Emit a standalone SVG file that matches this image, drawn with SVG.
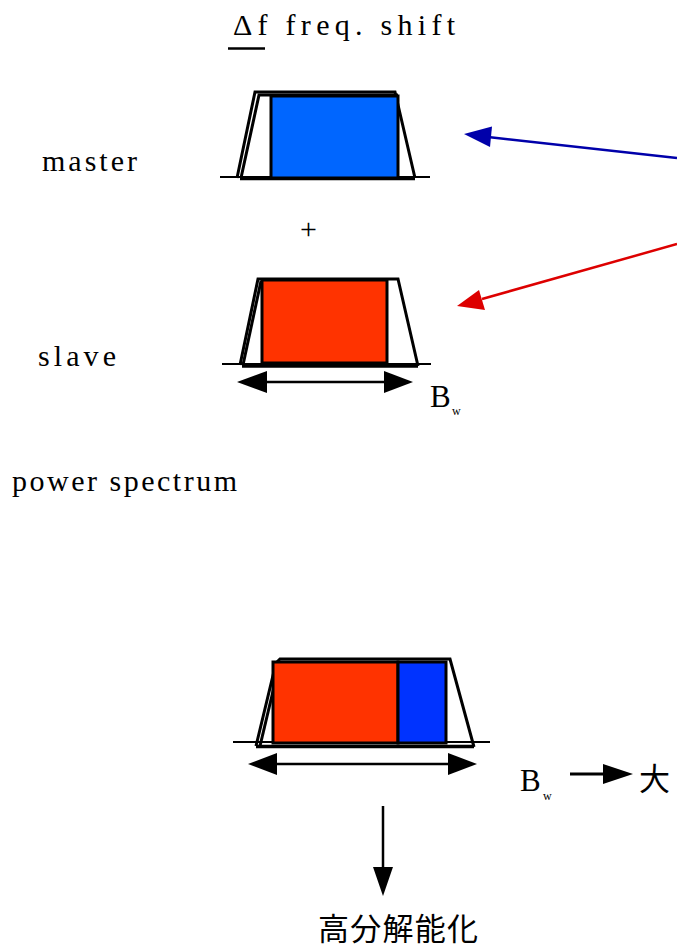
<svg xmlns="http://www.w3.org/2000/svg" width="677" height="951" viewBox="0 0 677 951">
<style>
.t{font-family:"Liberation Serif","DejaVu Serif",serif;font-size:30px;fill:#000}
.cjk{font-family:"Noto Sans CJK JP","Noto Sans CJK SC",sans-serif;font-size:31px;fill:#000}
.out{fill:none;stroke:#000;stroke-width:3;stroke-linejoin:miter}
.base{stroke:#000;stroke-width:2}
.thick{stroke:#000;stroke-width:3.5}
.bx{stroke:#000;stroke-width:3}
</style>
<rect width="677" height="951" fill="#fff"/>

<g id="title">
<text class="t" x="233" y="35" textLength="222" lengthAdjust="spacing">Δf freq. shift</text>
<line x1="228" y1="48.5" x2="265" y2="48.5" stroke="#000" stroke-width="2.5"/>
</g>

<g id="labels">
<text class="t" x="42" y="171" textLength="95" lengthAdjust="spacing">master</text>
<text class="t" x="38" y="366" textLength="78" lengthAdjust="spacing">slave</text>
<text class="t" x="12" y="491" textLength="225" lengthAdjust="spacing">power spectrum</text>
<text class="t" x="300" y="239" style="font-size:30px">+</text>
</g>

<g id="master">
<line class="base" x1="220" y1="177" x2="430" y2="177"/>
<polyline class="out" points="237,178 255,92 395,92 415,178"/>
<polyline class="out" points="241,178 259,95 398,95"/>
<line class="thick" x1="240" y1="178.5" x2="415" y2="178.5"/>
<rect x="271" y="96" width="127" height="82" fill="#0066FF" class="bx"/>
</g>

<g id="slave">
<line class="base" x1="222" y1="364" x2="431" y2="364"/>
<polyline class="out" points="240,365 258,279 398,279 418,366"/>
<polyline class="out" points="243,365 261,281"/>
<line class="thick" x1="242" y1="366" x2="418" y2="366"/>
<rect x="262" y="280" width="125" height="83" fill="#FF3300" class="bx"/>
<text class="t" x="430" y="407" style="font-size:31px">B</text>
<text class="t" x="452" y="415" style="font-size:12px">w</text>
</g>

<g id="combined">
<line class="base" x1="233" y1="742" x2="490" y2="742"/>
<polyline class="out" points="256,746 276,663 280,659 450,659 474,747"/>
<polyline class="out" points="260,746 279,666"/>
<line class="thick" x1="256" y1="746.5" x2="474" y2="746.5"/>
<rect x="273" y="662" width="125" height="81" fill="#FF3300" class="bx"/>
<rect x="398" y="662" width="48" height="81" fill="#0033FF" class="bx"/>
<text class="t" x="520" y="791" style="font-size:31px">B</text>
<text class="t" x="543" y="800" style="font-size:12px">w</text>
<text class="cjk" x="639" y="790">大</text>
<text class="cjk" x="318" y="940" style="font-size:31px" textLength="160" lengthAdjust="spacing">高分解能化</text>
</g>

<g id="connectors">
<line x1="264" y1="382" x2="386" y2="382" stroke="#000" stroke-width="2.5"/>
<path d="M237,382 L267,371 L267,393 z" fill="#000"/>
<path d="M413,382 L384,371 L384,393 z" fill="#000"/>
<line x1="274" y1="764" x2="450" y2="764" stroke="#000" stroke-width="2.5"/>
<path d="M248,764 L277,753 L277,775 z" fill="#000"/>
<path d="M477,764 L448,753 L448,775 z" fill="#000"/>
<line x1="570" y1="774" x2="606" y2="774" stroke="#000" stroke-width="3"/>
<path d="M633,774 L603,764 L603,784 z" fill="#000"/>
<line x1="383" y1="806" x2="383" y2="870" stroke="#000" stroke-width="2.5"/>
<path d="M383,896 L373,867 L393,867 z" fill="#000"/>
<line x1="677" y1="158" x2="488" y2="137" stroke="#0000AA" stroke-width="2.5"/>
<path d="M464,134 L492,126.5 L490,147 z" fill="#0000AA"/>
<line x1="677" y1="244" x2="482" y2="299" stroke="#DD0000" stroke-width="2.5"/>
<path d="M457,306 L479,290 L485,310 z" fill="#DD0000"/>
</g>
</svg>
